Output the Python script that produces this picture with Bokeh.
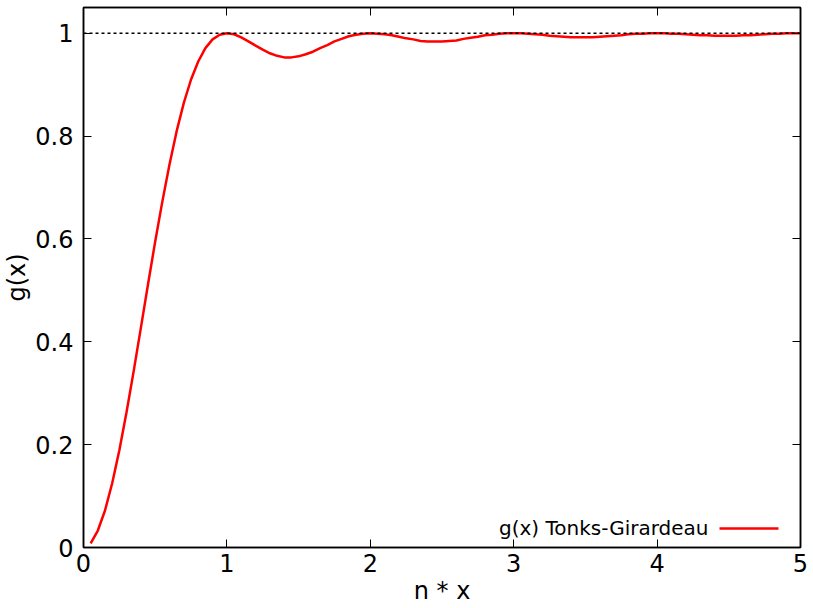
from bokeh.plotting import figure
from bokeh.models import Range1d, LinearAxis, Span, Label, Arrow, FixedTicker
from bokeh.embed import file_html
from bokeh.resources import INLINE

# data
nx = [0.05, 0.10, 0.15, 0.20, 0.25, 0.30, 0.35, 0.40, 0.45, 0.50,
      0.55, 0.60, 0.65, 0.70, 0.75, 0.80, 0.85, 0.90, 0.95, 1.00,
      1.05, 1.10, 1.15, 1.20, 1.25, 1.30, 1.35, 1.40, 1.45, 1.50,
      1.55, 1.60, 1.65, 1.70, 1.75, 1.80, 1.85, 1.90, 1.95, 2.00,
      2.05, 2.10, 2.15, 2.20, 2.25, 2.30, 2.35, 2.40, 2.45, 2.50,
      2.55, 2.60, 2.65, 2.70, 2.75, 2.80, 2.85, 2.90, 2.95, 3.00,
      3.05, 3.10, 3.15, 3.20, 3.25, 3.30, 3.35, 3.40, 3.45, 3.50,
      3.55, 3.60, 3.65, 3.70, 3.75, 3.80, 3.85, 3.90, 3.95, 4.00,
      4.05, 4.10, 4.15, 4.20, 4.25, 4.30, 4.35, 4.40, 4.45, 4.50,
      4.55, 4.60, 4.65, 4.70, 4.75, 4.80, 4.85, 4.90, 4.95, 5.00]
g_tg = [0.008, 0.033, 0.072, 0.125, 0.189, 0.263, 0.343, 0.427, 0.512, 0.595,
        0.673, 0.745, 0.810, 0.865, 0.910, 0.945, 0.971, 0.988, 0.997, 1.000,
        0.998, 0.992, 0.984, 0.976, 0.968, 0.961, 0.956, 0.953, 0.953, 0.955,
        0.959, 0.964, 0.971, 0.977, 0.984, 0.989, 0.994, 0.997, 0.999, 1.000,
        0.999, 0.998, 0.996, 0.993, 0.990, 0.988, 0.985, 0.984, 0.984, 0.984,
        0.985, 0.986, 0.989, 0.991, 0.993, 0.996, 0.997, 0.999, 1.000, 1.000,
        1.000, 0.999, 0.998, 0.997, 0.995, 0.994, 0.993, 0.992, 0.992, 0.992,
        0.992, 0.993, 0.994, 0.995, 0.996, 0.998, 0.999, 0.999, 1.000, 1.000,
        1.000, 0.999, 0.999, 0.998, 0.997, 0.996, 0.996, 0.995, 0.995, 0.995,
        0.995, 0.996, 0.996, 0.997, 0.998, 0.999, 0.999, 1.000, 1.000, 1.000]
x_ticks = [0, 1, 2, 3, 4, 5]
y_ticks = [0, 0.2, 0.4, 0.6, 0.8, 1.0]
y_tick_labels = {0: "0", 0.2: "0.2", 0.4: "0.4", 0.6: "0.6", 0.8: "0.8", 1.0: "1"}
series_label = "g(x) Tonks-Girardeau"

FONT = "DejaVu Sans"

p = figure(width=813, height=608, output_backend="svg", toolbar_location=None,
           x_range=Range1d(0, 5), y_range=Range1d(0, 1.05),
           min_border_left=83, min_border_right=13, min_border_top=7, min_border_bottom=61)
p.grid.visible = False
p.outline_line_color = "black"
p.outline_line_width = 1.5
p.background_fill_color = "white"
p.border_fill_color = "white"

def style_axis(ax, labels=True):
    ax.axis_line_color = "black"
    ax.axis_line_width = 1.5
    ax.major_tick_in = 8
    ax.major_tick_out = 0
    ax.major_tick_line_color = "black"
    ax.major_tick_line_width = 1
    ax.minor_tick_line_color = None
    if labels:
        ax.major_label_text_font = FONT
        ax.major_label_text_font_size = "24px"
        ax.major_label_text_color = "black"
        ax.axis_label_text_font = FONT
        ax.axis_label_text_font_size = "24px"
        ax.axis_label_text_font_style = "normal"
        ax.axis_label_text_color = "black"
    else:
        ax.major_label_text_color = None
        ax.major_label_standoff = 0

xa = p.xaxis[0]
ya = p.yaxis[0]
xa.ticker = FixedTicker(ticks=x_ticks)
ya.ticker = FixedTicker(ticks=y_ticks)
ya.major_label_overrides = y_tick_labels
xa.axis_label = "n * x"
ya.axis_label = "g(x)"
style_axis(xa)
style_axis(ya)
xa.major_label_standoff = 6
xa.axis_label_standoff = 2
ya.major_label_standoff = 10
ya.axis_label_standoff = 1

top = LinearAxis(ticker=FixedTicker(ticks=x_ticks))
right = LinearAxis(ticker=FixedTicker(ticks=y_ticks))
style_axis(top, labels=False)
style_axis(right, labels=False)
p.add_layout(top, "above")
p.add_layout(right, "right")

p.add_layout(Span(location=1.0, dimension="width", line_color="black",
                  line_width=1.6, line_dash="3 3"))

p.line(nx, g_tg, line_color="#ff0000", line_width=2.5)

# legend (gnuplot style: text, then sample line)
p.add_layout(Label(x=625, y=20, x_units="screen", y_units="screen", text=series_label,
                   text_font=FONT, text_font_size="20px", text_align="right",
                   text_baseline="middle", text_color="black"))
p.add_layout(Arrow(x_start=636, y_start=19, x_end=695, y_end=19,
                   start_units="screen", end_units="screen", start=None, end=None,
                   line_color="#ff0000", line_width=2.5))

open("out.html", "w").write(file_html(p, INLINE))
